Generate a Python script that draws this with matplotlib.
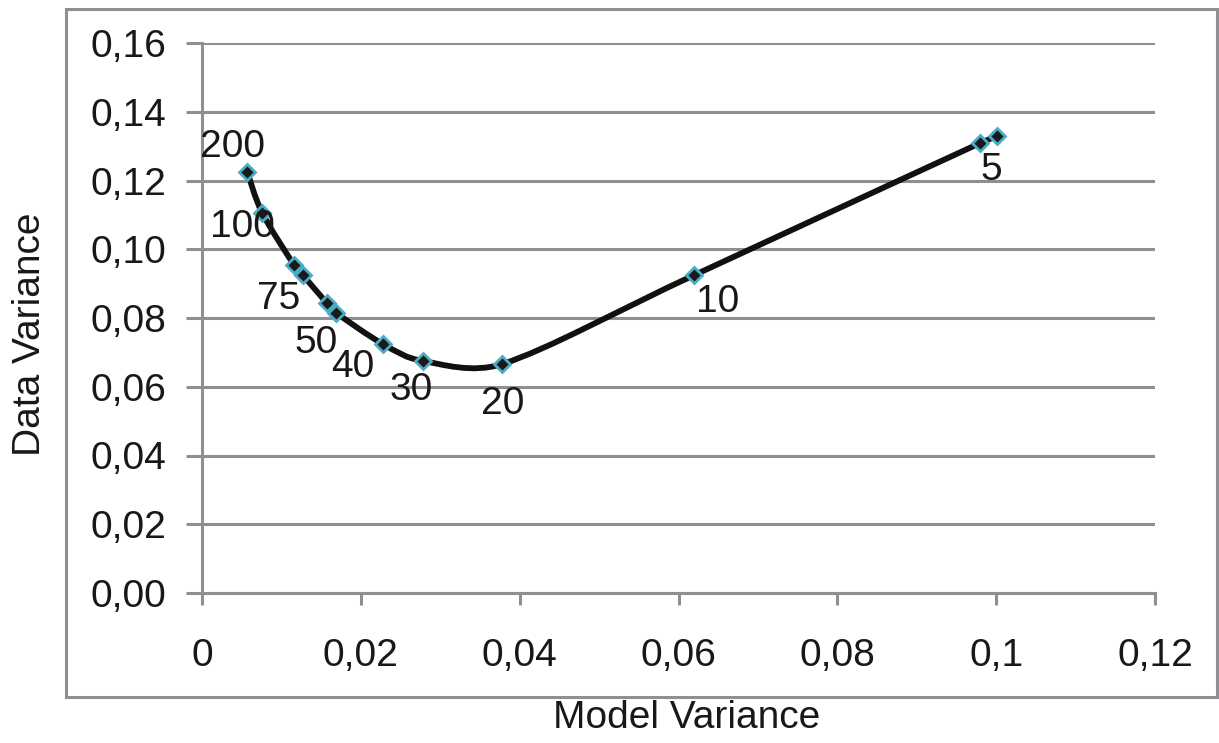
import matplotlib
matplotlib.use("Agg")
import matplotlib.pyplot as plt
from matplotlib.path import Path
from matplotlib.patches import PathPatch, Rectangle
import numpy as np

# ---- data ----
model_variance = [0.0057, 0.0076, 0.0116, 0.0127, 0.0157, 0.0169, 0.0228, 0.0278, 0.0378, 0.0620, 0.0980, 0.1001]
data_variance = [0.1225, 0.1105, 0.0954, 0.0925, 0.0844, 0.0815, 0.0724, 0.0675, 0.0666, 0.0925, 0.1309, 0.1329]
point_labels = ["200", "100", "", "75", "", "50", "40", "30", "20", "10", "", "5"]
x_ticks = [0, 0.02, 0.04, 0.06, 0.08, 0.10, 0.12]
x_tick_labels = ["0", "0,02", "0,04", "0,06", "0,08", "0,1", "0,12"]
y_ticks = [0.00, 0.02, 0.04, 0.06, 0.08, 0.10, 0.12, 0.14, 0.16]
y_tick_labels = ["0,00", "0,02", "0,04", "0,06", "0,08", "0,10", "0,12", "0,14", "0,16"]

# label offsets (points) - style only
label_offsets = [(-10.8, 18), (-14.4, -10), None, (-17.5, -17.5), None, (-14.5, -21.5),
                 (-21.5, -16.5), (-8.6, -20.9), (0.7, -28.8), (16.6, -19.4), None, (-4.3, -24.5)]

plt.rcParams['font.family'] = ['Liberation Sans', 'DejaVu Sans']
TXT = '#1a1718'
GRID = '#8e8e93'
FS = 28

fig = plt.figure(figsize=(12.19, 7.43), dpi=100)
ax = fig.add_axes([202 / 1219, 1 - 593 / 743, (1155 - 202) / 1219, (593 - 43) / 743])

# outer frame
fig.patches.append(Rectangle((66 / 1219, 1 - 697 / 743), (1217 - 66) / 1219, (697 - 9) / 743,
                             transform=fig.transFigure, fill=False, edgecolor=GRID, linewidth=2.2,
                             zorder=0))

ax.set_xlim(0, 0.12)
ax.set_ylim(0, 0.16)

# smoothed line (Excel-style cubic Bezier through the points), built in display space
fig.canvas.draw()
P = ax.transData.transform(np.column_stack([model_variance, data_variance]))
n = len(P)
verts = [tuple(P[0])]
codes = [Path.MOVETO]


def limit(vec, maxlen):
    L = np.hypot(*vec)
    return vec * (maxlen / L) if L > maxlen and L > 0 else vec


for i in range(n - 1):
    p0 = P[i - 1] if i > 0 else P[i]
    p1 = P[i]
    p2 = P[i + 1]
    p3 = P[i + 2] if i + 2 < n else P[i + 1]
    chord = np.hypot(*(p2 - p1))
    t1 = limit((p2 - p0) / 6.0, 0.4 * chord)
    t2 = limit((p3 - p1) / 6.0, 0.4 * chord)
    verts += [tuple(p1 + t1), tuple(p2 - t2), tuple(p2)]
    codes += [Path.CURVE4, Path.CURVE4, Path.CURVE4]
line_path = Path(ax.transData.inverted().transform(np.array(verts)), codes)
ax.add_patch(PathPatch(line_path, fill=False, edgecolor='#111111', linewidth=4.2,
                       capstyle='butt', joinstyle='round', zorder=3))

ax.plot(model_variance, data_variance, linestyle='none', marker='D', markersize=8.5,
        markerfacecolor='#1a1a1a', markeredgecolor='#4bacc6', markeredgewidth=2.0, zorder=4)

for xv, yv, lab, off in zip(model_variance, data_variance, point_labels, label_offsets):
    if lab and off is not None:
        ax.annotate(lab, (xv, yv), xytext=off, textcoords='offset points',
                    ha='center', va='center', fontsize=FS, color=TXT, zorder=5)

ax.set_xticks(x_ticks)
ax.set_xticklabels(x_tick_labels)
ax.set_yticks(y_ticks)
ax.set_yticklabels(y_tick_labels)
ax.grid(axis='y', color=GRID, linewidth=2.2, zorder=1)
ax.set_axisbelow(True)
for s in ['top', 'right']:
    ax.spines[s].set_visible(False)
for s in ['left', 'bottom']:
    ax.spines[s].set_color(GRID)
    ax.spines[s].set_linewidth(2.2)
ax.tick_params(axis='x', direction='out', length=8.5, width=2.2, color=GRID,
               labelsize=FS, labelcolor=TXT, pad=24)
ax.tick_params(axis='y', direction='out', length=11.5, width=2.2, color=GRID,
               labelsize=FS, labelcolor=TXT, pad=14)

fig.text(30 / 1219, 1 - 334 / 743, 'Data Variance', rotation=90, ha='center', va='center',
         fontsize=FS, color=TXT)
fig.text(687 / 1219, 1 - 718 / 743, 'Model Variance', ha='center', va='center',
         fontsize=FS, color=TXT)

fig.savefig('out.png', dpi=100)
